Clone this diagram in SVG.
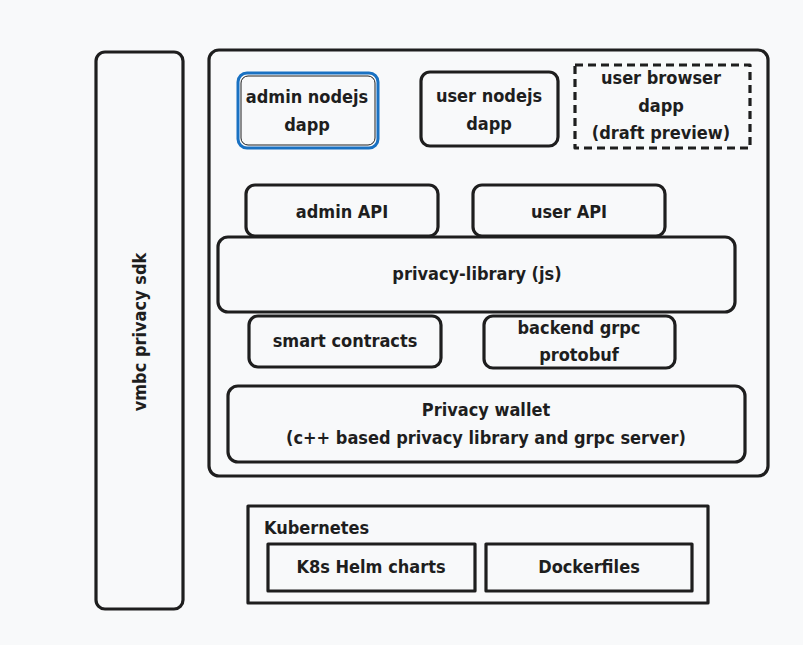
<svg xmlns="http://www.w3.org/2000/svg" width="803" height="645" viewBox="0 0 803 645">
<style>
.b{fill:none;stroke:#1e1e1e;stroke-width:3.2;stroke-linejoin:round}
.t{font-family:"DejaVu Sans Condensed","Liberation Sans",sans-serif;font-size:18px;fill:#1e1e1e;text-anchor:middle;font-weight:bold}
</style>
<rect width="803" height="645" fill="#f8f9fa"/>
<g id="sdk">
<rect class="b" x="96" y="52" width="87" height="557" rx="9"/>
<text class="t" transform="translate(146,332) rotate(-90)">vmbc privacy sdk</text>
</g>
<g id="container">
<rect class="b" x="209" y="50" width="559" height="426" rx="10"/>
</g>
<g id="admin-dapp">
<rect x="238" y="73" width="140" height="75" rx="9" fill="none" stroke="#1971c2" stroke-width="3"/>
<rect x="241" y="76" width="134" height="69" rx="7" fill="none" stroke="#1e1e1e" stroke-width="1"/>
<text class="t" x="307" y="103">admin nodejs</text>
<text class="t" x="307" y="131">dapp</text>
</g>
<g id="user-dapp">
<rect class="b" x="421" y="72" width="137" height="74" rx="9"/>
<text class="t" x="489" y="102">user nodejs</text>
<text class="t" x="489" y="130">dapp</text>
</g>
<g id="browser-dapp">
<rect class="b" x="575" y="65" width="175" height="83" stroke-dasharray="8 5"/>
<text class="t" x="661" y="84">user browser</text>
<text class="t" x="661" y="112">dapp</text>
<text class="t" x="661" y="139">(draft preview)</text>
</g>
<g id="admin-api">
<rect class="b" x="246" y="185" width="192" height="51" rx="9"/>
<text class="t" x="342" y="218">admin API</text>
</g>
<g id="user-api">
<rect class="b" x="473" y="185" width="192" height="51" rx="9"/>
<text class="t" x="569" y="218">user API</text>
</g>
<g id="privacy-library">
<rect class="b" x="218" y="237" width="517" height="75" rx="10"/>
<text class="t" x="477" y="280">privacy-library (js)</text>
</g>
<g id="smart-contracts">
<rect class="b" x="249" y="316" width="192" height="51" rx="9"/>
<text class="t" x="345" y="347">smart contracts</text>
</g>
<g id="backend-grpc">
<rect class="b" x="484" y="316" width="191" height="52" rx="9"/>
<text class="t" x="579" y="334">backend grpc</text>
<text class="t" x="579" y="361">protobuf</text>
</g>
<g id="privacy-wallet">
<rect class="b" x="228" y="386" width="517" height="76" rx="10"/>
<text class="t" x="486" y="416">Privacy wallet</text>
<text class="t" x="486" y="444">(c++ based privacy library and grpc server)</text>
</g>
<g id="kubernetes">
<rect class="b" x="248" y="506" width="460" height="97"/>
<text class="t" x="264" y="534" style="text-anchor:start">Kubernetes</text>
</g>
<g id="helm">
<rect class="b" x="268" y="544" width="207" height="47"/>
<text class="t" x="371" y="573">K8s Helm charts</text>
</g>
<g id="docker">
<rect class="b" x="486" y="544" width="206" height="47"/>
<text class="t" x="589" y="573">Dockerfiles</text>
</g>
<g id="connectors"></g>
</svg>
